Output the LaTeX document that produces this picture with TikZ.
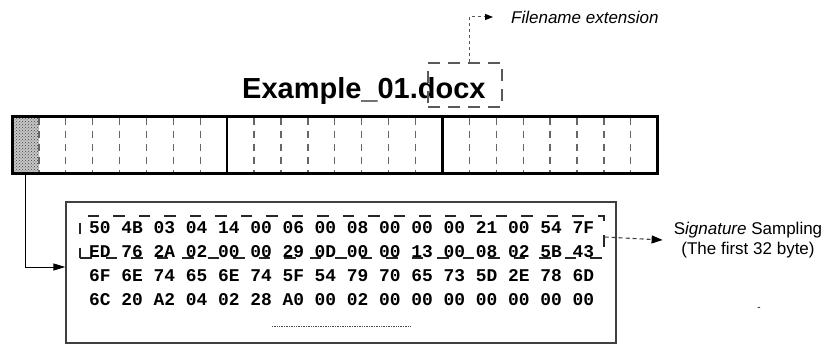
\documentclass[tikz,border=0pt]{standalone}
\usepackage{fontspec}
\setmainfont{Liberation Sans}
\newfontfamily\hexfont{Liberation Mono}
\usetikzlibrary{arrows.meta,patterns}
\begin{document}
\begin{tikzpicture}[x=1pt,y=-1pt,
  barframe/.style={draw=black,line width=3pt},
  divider/.style={draw=black,line width=2.4pt},
  celldash/.style={draw=black!60,line width=1.3pt,dash pattern=on 7pt off 6pt},
  cellshade/.style={draw=none,fill=black!22,inner sep=0pt,
    postaction={pattern=crosshatch dots,pattern color=black!75}},
  titletext/.style={inner sep=0pt,font=\fontsize{29}{34}\selectfont\bfseries},
  extbox/.style={draw=black!65,line width=1.3pt,dash pattern=on 12pt off 8pt,inner sep=0pt},
  extline/.style={draw=black!65,line width=1pt,dash pattern=on 3pt off 3pt,
    -{Triangle[length=8pt,width=6pt,color=black]}},
  note/.style={inner sep=0pt,font=\fontsize{17}{20}\selectfont},
  hexrow/.style={inner sep=0pt,anchor=west,font=\fontsize{17.9}{20}\hexfont\bfseries},
  hexframe/.style={draw=black!75,line width=1.3pt,inner sep=0pt},
  sigbox/.style={draw=black!85,line width=1.1pt,dash pattern=on 11.5pt off 14pt,inner sep=0pt},
  sigline/.style={draw=black!75,line width=1.1pt,dash pattern=on 4pt off 3pt,
    -{Triangle[length=11pt,width=8pt,color=black]}},
  conn/.style={draw=black,line width=1pt,-{Triangle[length=12pt,width=7pt]}},
  dotline/.style={draw=black!70,line width=0.8pt,dash pattern=on 0.8pt off 0.9pt}]
\useasboundingbox (0,0) rectangle (829,345);

% title and extension
\node[titletext,anchor=base west] (title) at (242,98) {Example\_01.docx};
\node[extbox,minimum width=74pt,minimum height=44pt] (ext) at (465,85) {};
\node[note,anchor=west,font=\fontsize{17}{20}\selectfont\itshape] (fname) at (511,17) {Filename extension};
\draw[extline] ([xshift=4pt]ext.north) |- ([xshift=-18pt]fname.west);

% bar
\node[cellshade,minimum width=27pt,minimum height=57pt] (cell1) at (25.5,144.5) {};
\foreach \s in {0,1,2}{
  \foreach \k in {1,...,7}{
    \draw[celldash] ({12+\s*215.23+\k*26.9},117.5) -- ({12+\s*215.23+\k*26.9},172);
  }
}
\draw[divider] (227.2,116) -- (227.2,173);
\draw[divider] (442.4,116) -- (442.4,173);
\node[barframe,minimum width=645.7pt,minimum height=57pt,inner sep=0pt] (bar) at (334.85,144.5) {};

% hex box
\node[hexframe,minimum width=550pt,minimum height=141pt] (hexbox) at (341,272.5) {};
\node[hexrow] (r1) at (89,228) {50 4B 03 04 14 00 06 00 08 00 00 00 21 00 54 7F};
\node[hexrow] (r2) at (89,252) {ED 76 2A 02 00 00 29 0D 00 00 13 00 08 02 5B 43};
\node[hexrow] (r3) at (89,276) {6F 6E 74 65 6E 74 5F 54 79 70 65 73 5D 2E 78 6D};
\node[hexrow] (r4) at (89,300) {6C 20 A2 04 02 28 A0 00 02 00 00 00 00 00 00 00};
\draw[dotline] (272,326) -- (410,326);
\node[sigbox,minimum width=524pt,minimum height=42pt] (first32) at (342,237) {};

\draw[conn] (cell1.south) |- ([yshift=5.5pt]hexbox.west);

% signature note
\node[note,align=center] (sig) at (748,240) {S\textit{ignature} Sampling\\(The first 32 byte)};
\draw[sigline] (first32.east) -- ([xshift=-11pt]sig.west);

\node[inner sep=0pt,font=\fontsize{10}{12}\selectfont] (dash) at (759,309) {-};
\end{tikzpicture}
\end{document}
